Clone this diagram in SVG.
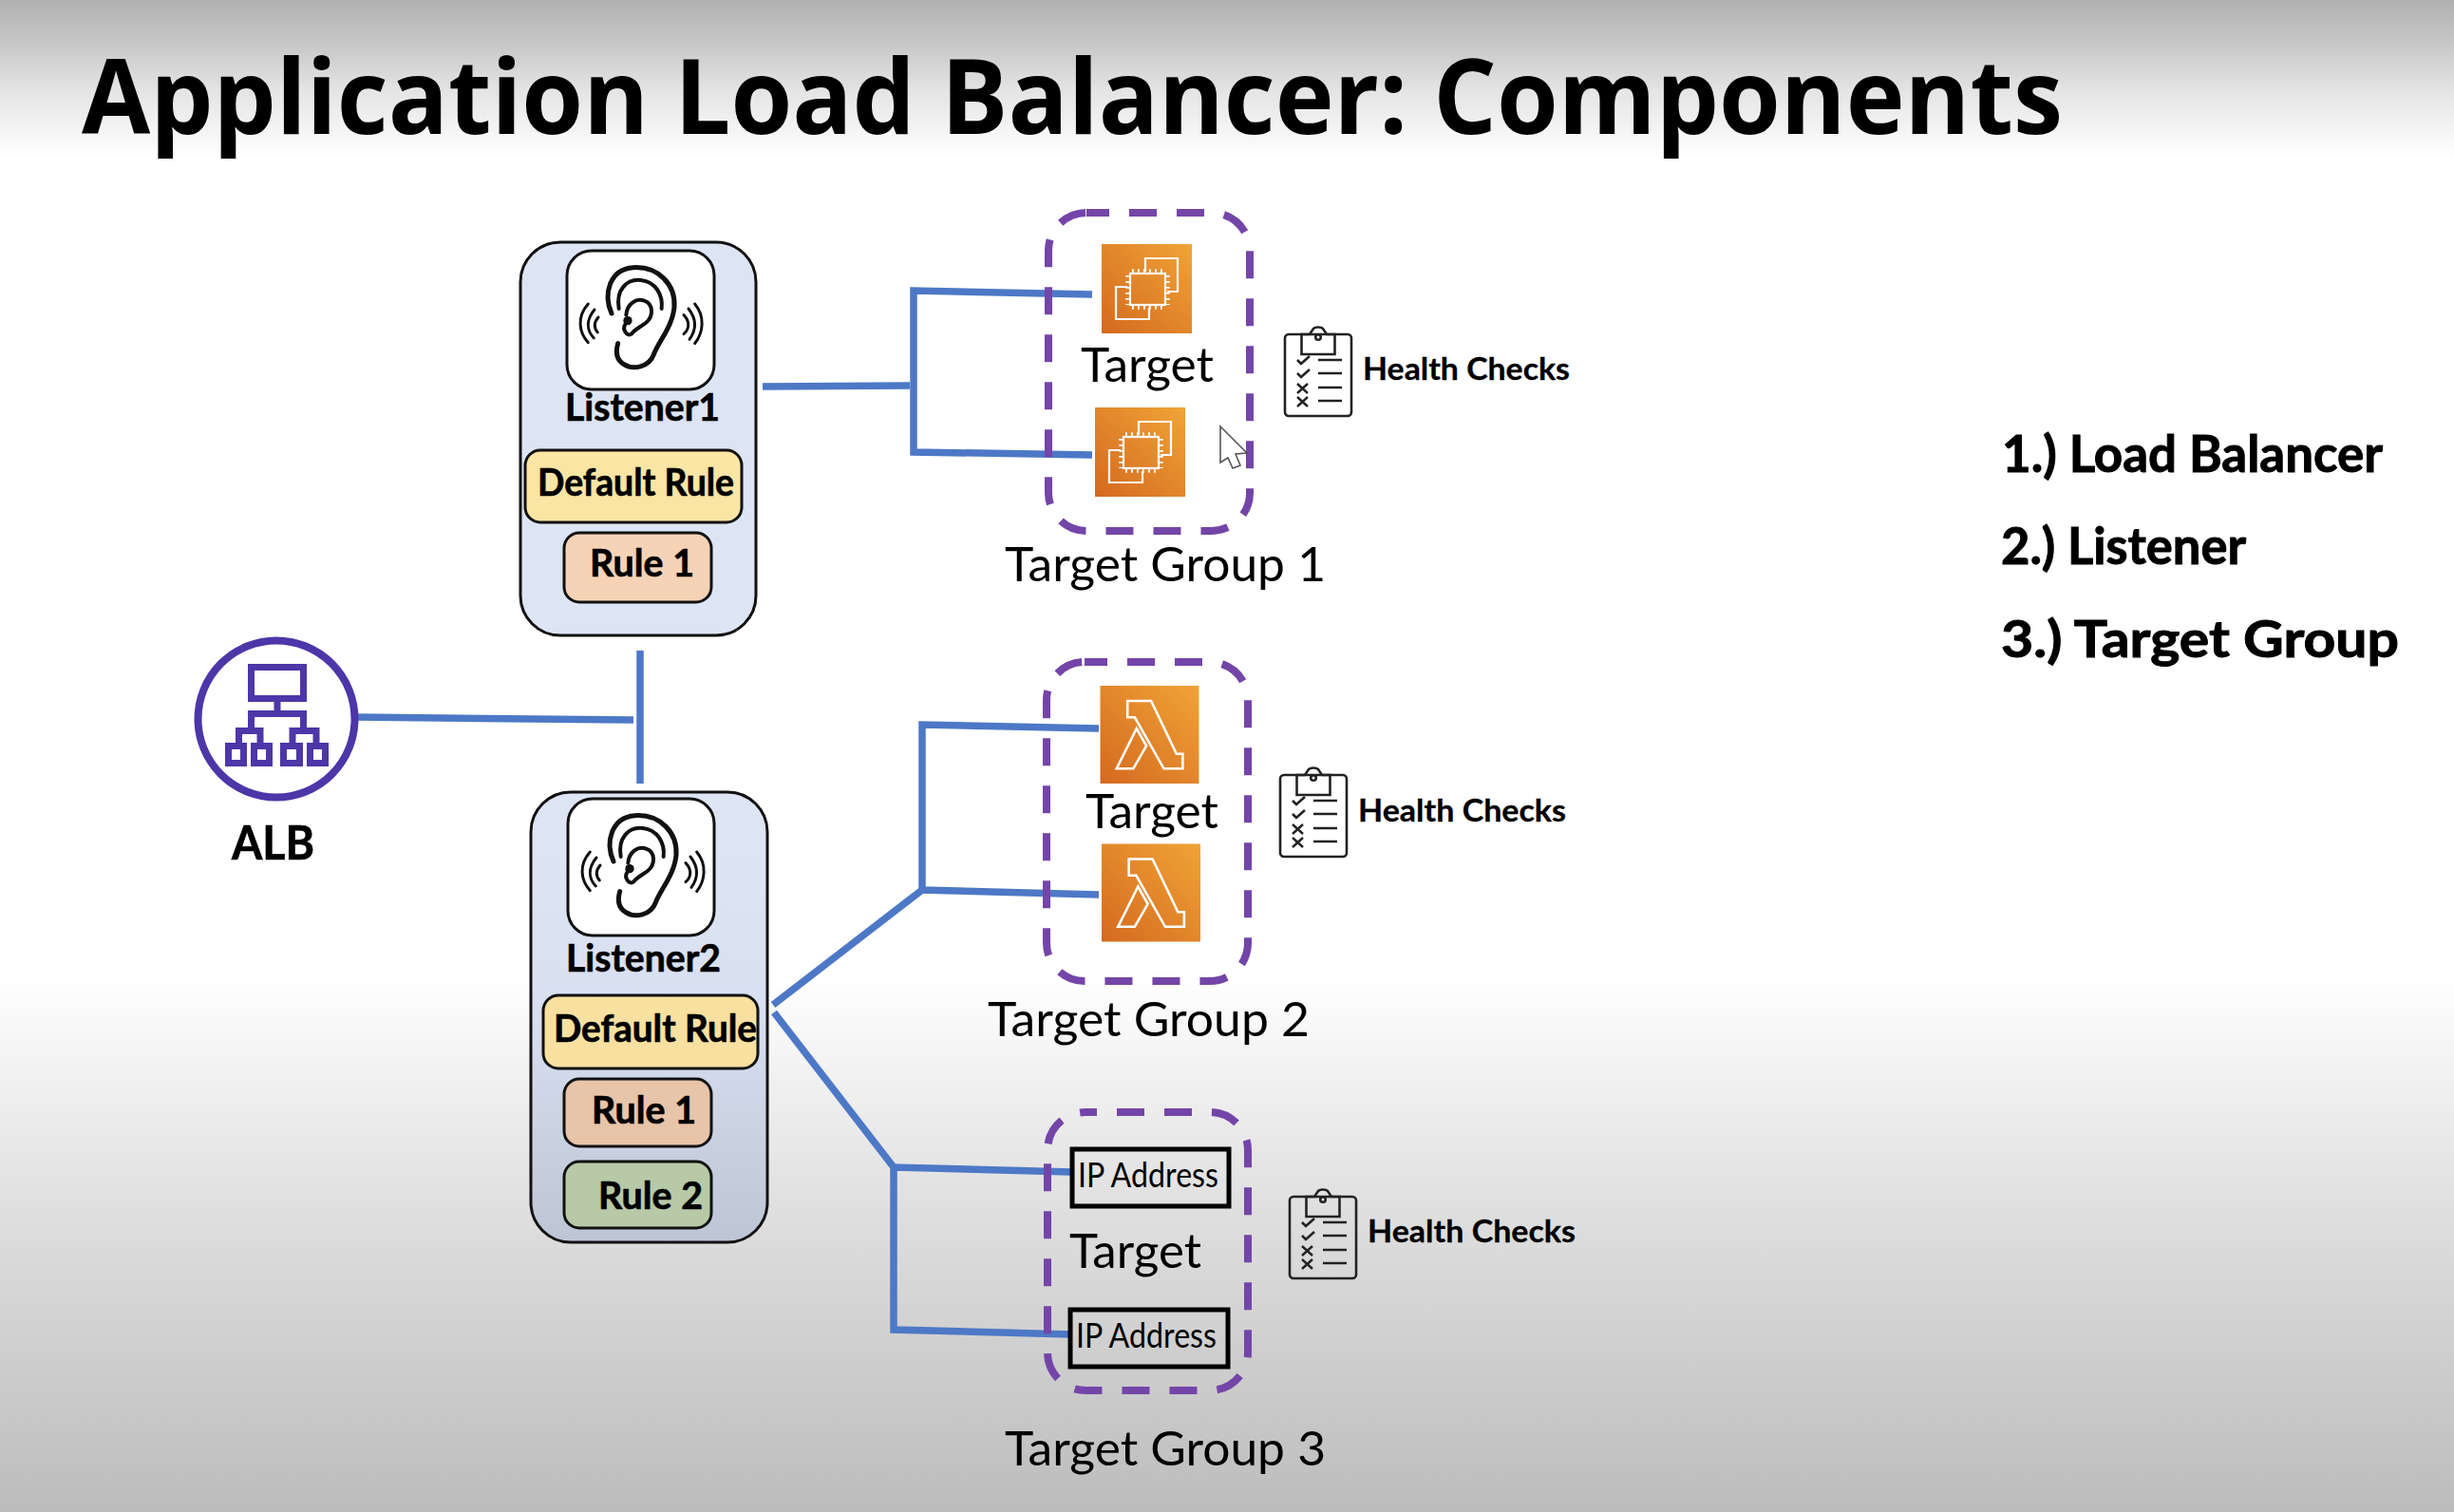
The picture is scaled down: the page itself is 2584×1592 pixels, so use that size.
<svg xmlns="http://www.w3.org/2000/svg" xmlns:xlink="http://www.w3.org/1999/xlink" width="2584" height="1592" viewBox="0 0 2584 1592">
<defs>
<linearGradient id="bg" x1="0" y1="0" x2="0" y2="1">
<stop offset="0" stop-color="#b0b0b0"/><stop offset="0.03" stop-color="#c8c8c8"/><stop offset="0.06" stop-color="#e4e4e4"/><stop offset="0.104" stop-color="#ffffff"/><stop offset="0.645" stop-color="#ffffff"/><stop offset="0.8" stop-color="#dfdfdf"/><stop offset="1" stop-color="#bcbcbc"/>
</linearGradient>
<linearGradient id="panel" gradientUnits="userSpaceOnUse" x1="0" y1="900" x2="0" y2="1320">
<stop offset="0" stop-color="#dde4f3"/><stop offset="0.4" stop-color="#d8dff0"/><stop offset="1" stop-color="#bcc4d4"/>
</linearGradient>
<linearGradient id="orange" x1="0" y1="1" x2="1" y2="0">
<stop offset="0" stop-color="#d4691f"/><stop offset="1" stop-color="#f0a437"/>
</linearGradient>
<g id="ear" fill="none" stroke="#111" stroke-linecap="round">
<g transform="translate(520 230) scale(0.3333)">
<path stroke-width="15" d="M372,300 C345,240 365,160 440,155 C520,150 575,210 570,280 C565,340 520,390 505,430 C490,470 440,480 410,460 C385,445 385,420 392,395"/>
<path stroke-width="12" d="M395,285 C385,225 420,190 465,195 C510,200 535,240 530,285"/>
<path stroke-width="12" d="M418,305 C420,270 450,250 475,260 C505,270 505,310 480,330 C460,345 445,350 435,365 C420,375 405,350 415,335"/>
<circle cx="423" cy="323" r="14" fill="#111" stroke="none"/>
<path stroke-width="9" d="M298,270 C262,310 268,360 298,392 M318,288 C292,320 292,352 316,378 M330,312 C315,330 315,345 328,360"/>
<path stroke-width="9" d="M635,270 C668,310 662,360 635,395 M615,285 C642,320 640,352 618,382 M600,305 C620,325 618,350 600,365"/>
</g>
</g>
<g id="ec2">
<rect width="95" height="94" fill="url(#orange)"/>
<g fill="none" stroke="#fff" stroke-width="2.2">
<path d="M46,29 V15 H80 V50 H69"/>
<path d="M27,45 H15 V79 H50 V67"/>
<rect x="30" y="31" width="37" height="33"/>
<path stroke-width="4.5" stroke-dasharray="1.800 4.200" d="M32,28.500 H67 M32,66.500 H67"/>
<path stroke-width="4.500" stroke-dasharray="1.800 4.200" d="M27.500,33 V64 M69.500,33 V64"/>
</g>
</g>
<g id="lambda">
<rect width="104" height="103" fill="url(#orange)"/>
<g fill="none" stroke="#fff" stroke-width="2.6" stroke-linejoin="miter">
<path d="M28.7,16 H53.6 L80.3,71.7 H86.9 V87.3 H67 L36.4,33.3 H28.7 Z"/>
<path d="M17.2,87.3 L38.3,45 L48.6,63.3 L34.8,87.3 Z"/>
</g>
</g>
<g id="clip">
<g fill="none" stroke="#222" stroke-width="2.6">
<rect x="0" y="8" width="70" height="86" rx="4"/>
<path d="M17.5,8 V29 H52.500 V8 H44 L40,2 C38,0 32,0 30,2 L26,8 Z"/>
<circle cx="35" cy="11" r="2.8"/>
<path d="M13,35 L17,39 L26,31 M13,49 L17,53 L26,45"/>
<path d="M13,60 L24,70 M24,60 L13,70 M13,74 L24,84 M24,74 L13,84" stroke-width="2.4"/>
<path d="M35,35 H60 M35,49 H60 M35,64 H60 M35,78 H60"/>
</g>
</g>
</defs>
<style>
.p{font-family:"Lato","Liberation Sans",sans-serif;fill:#000;font-weight:400}
.b{font-family:"Lato","Liberation Sans",sans-serif;fill:#000;font-weight:700;stroke:#000;stroke-width:0.7}
.title{font-family:"Open Sans","Liberation Sans",sans-serif;font-weight:700;font-size:110px;fill:#000}
.hc{font-size:33px;stroke-width:0.3}
.t{font-size:50px}
.tg{font-size:50px}
.r{font-size:40px}
.l{font-size:41px}
.list{font-size:53px;stroke-width:1}
.ip{font-size:36px}
.panel{fill:url(#panel);stroke:#111;stroke-width:3}
.white{fill:#fff;stroke:#111;stroke-width:3}
.rule{stroke:#111;stroke-width:3}
.dash{fill:none;stroke:#7445a8;stroke-width:8;stroke-dasharray:29 21}
.conn{fill:none;stroke:#4d78c6;stroke-width:7.5}
.ipbox{fill:none;stroke:#000;stroke-width:5}
</style>
<rect width="2584" height="1592" fill="url(#bg)"/>
<text class="title" x="86" y="141" textLength="2086" lengthAdjust="spacingAndGlyphs">Application Load Balancer: Components</text>

<g id="connectors">
<path class="conn" d="M373,755 L667,758"/>
<path class="conn" d="M674,685 V825"/>
<path class="conn" d="M803,407 L958,406"/>
<path class="conn" d="M1150,310 L962,306 V476 L1150,479"/>
<path class="conn" d="M814,1058 L971,937"/>
<path class="conn" d="M1157,767 L971,763 V937 L1157,942"/>
<path class="conn" d="M815,1066 L941,1229"/>
<path class="conn" d="M1128,1234 L941,1229 V1400 L1128,1405"/>
</g>

<g id="alb">
<circle cx="291" cy="757" r="82.5" fill="#fff" stroke="#4d36a8" stroke-width="8"/>
<g fill="none" stroke="#4d36a8" stroke-width="7">
<rect x="264.500" y="702.500" width="55" height="33"/>
<path d="M292,736 V749 M264.500,767 V751.500 H319.500 V767"/>
<path d="M251.500,783 V769.500 H274 V783 M308,783 V769.500 H333 V783"/>
<rect x="240.500" y="785.500" width="16" height="18"/>
<rect x="267.500" y="785.500" width="16" height="18"/>
<rect x="298.500" y="785.500" width="17" height="18"/>
<rect x="326.500" y="785.500" width="16" height="18"/>
</g>
<text class="b" x="244" y="905" font-size="50" textLength="87" lengthAdjust="spacingAndGlyphs">ALB</text>
</g>

<g id="listener1">
<rect class="panel" x="548" y="255" width="248" height="414" rx="42" style="fill:#dde4f3"/>
<rect class="white" x="597" y="264" width="155" height="146" rx="26"/>
<use xlink:href="#ear" href="#ear"/>
<text class="b l" x="595" y="443" textLength="163" lengthAdjust="spacingAndGlyphs">Listener1</text>
<rect class="rule" x="553" y="474" width="228" height="76" rx="16" fill="#fbe5a4"/>
<text class="b r" x="566" y="522" textLength="207" lengthAdjust="spacingAndGlyphs">Default Rule</text>
<rect class="rule" x="594" y="561" width="155" height="73" rx="16" fill="#f6d3b6"/>
<text class="b r" x="621" y="607" textLength="110" lengthAdjust="spacingAndGlyphs">Rule 1</text>
</g>

<g id="listener2">
<rect class="panel" x="559" y="834" width="249" height="474" rx="42"/>
<rect class="white" x="598" y="841" width="154" height="144" rx="26"/>
<use xlink:href="#ear" href="#ear" transform="translate(2 577)"/>
<text class="b l" x="596" y="1023" textLength="163" lengthAdjust="spacingAndGlyphs">Listener2</text>
<rect class="rule" x="572" y="1048" width="226" height="77" rx="16" fill="#f8e0a0"/>
<text class="b r" x="583" y="1097" textLength="214" lengthAdjust="spacingAndGlyphs">Default Rule</text>
<rect class="rule" x="594" y="1136" width="155" height="71" rx="16" fill="#e8c4a8"/>
<text class="b r" x="623" y="1183" textLength="110" lengthAdjust="spacingAndGlyphs">Rule 1</text>
<rect class="rule" x="594" y="1223" width="155" height="70" rx="16" fill="#b7c9a6"/>
<text class="b r" x="630" y="1273" textLength="110" lengthAdjust="spacingAndGlyphs">Rule 2</text>
</g>

<g id="target-group-1">
<rect class="dash" x="1104" y="224" width="212" height="335" rx="40" stroke-dashoffset="5"/>
<use xlink:href="#ec2" href="#ec2" transform="translate(1160 257)"/>
<text class="p t" x="1138" y="402" textLength="140" lengthAdjust="spacingAndGlyphs">Target</text>
<use xlink:href="#ec2" href="#ec2" transform="translate(1153 429)"/>
<path d="M1285,449 L1313,477 L1301,478 L1306,490 L1298,493 L1293,482 L1285,487 Z" fill="#fff" stroke="#555" stroke-width="1.6"/>
<text class="p tg" x="1058" y="612" textLength="338" lengthAdjust="spacingAndGlyphs">Target Group 1</text>
<use xlink:href="#clip" href="#clip" transform="translate(1353 344)"/>
<text class="b hc" x="1435" y="400" textLength="218" lengthAdjust="spacingAndGlyphs">Health Checks</text>
</g>

<g id="target-group-2">
<rect class="dash" x="1102" y="697" width="212" height="336" rx="40" stroke-dashoffset="5"/>
<use xlink:href="#lambda" href="#lambda" transform="translate(1158.5 722)"/>
<text class="p t" x="1143" y="872" textLength="140" lengthAdjust="spacingAndGlyphs">Target</text>
<use xlink:href="#lambda" href="#lambda" transform="translate(1160 888.500)"/>
<text class="p tg" x="1040" y="1091" textLength="339" lengthAdjust="spacingAndGlyphs">Target Group 2</text>
<use xlink:href="#clip" href="#clip" transform="translate(1348 808)"/>
<text class="b hc" x="1430" y="865" textLength="219" lengthAdjust="spacingAndGlyphs">Health Checks</text>
</g>

<g id="target-group-3">
<rect class="dash" x="1103" y="1171" width="211" height="293" rx="40" stroke-dashoffset="17"/>
<rect class="ipbox" x="1129" y="1210" width="165" height="60"/>
<text class="p ip" x="1135" y="1250" textLength="148" lengthAdjust="spacingAndGlyphs">IP Address</text>
<text class="p t" x="1126" y="1335" textLength="139" lengthAdjust="spacingAndGlyphs">Target</text>
<rect class="ipbox" x="1127" y="1379" width="166" height="60"/>
<text class="p ip" x="1133" y="1419" textLength="148" lengthAdjust="spacingAndGlyphs">IP Address</text>
<text class="p tg" x="1058" y="1543" textLength="338" lengthAdjust="spacingAndGlyphs">Target Group 3</text>
<use xlink:href="#clip" href="#clip" transform="translate(1358 1252)"/>
<text class="b hc" x="1440" y="1308" textLength="219" lengthAdjust="spacingAndGlyphs">Health Checks</text>
</g>

<g id="list">
<text class="b list" x="2108" y="497" textLength="401" lengthAdjust="spacingAndGlyphs">1.) Load Balancer</text>
<text class="b list" x="2107" y="594" textLength="258" lengthAdjust="spacingAndGlyphs">2.) Listener</text>
<text class="b list" x="2107" y="692" textLength="419" lengthAdjust="spacingAndGlyphs">3.) Target Group</text>
</g>
</svg>
